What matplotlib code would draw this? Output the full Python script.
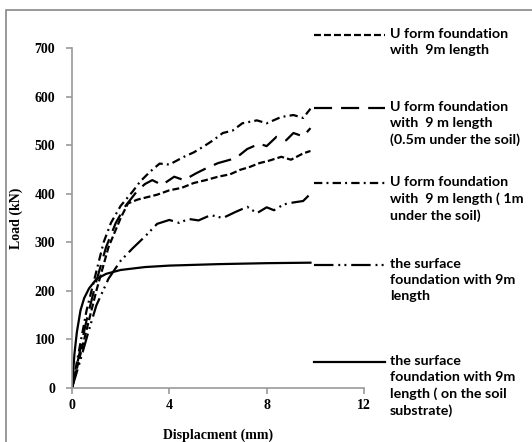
import matplotlib
matplotlib.use("Agg")
import matplotlib.pyplot as plt
from matplotlib.lines import Line2D
from matplotlib.patches import Rectangle

plt.rcParams['lines.scale_dashes'] = False

# data (displacement mm, load kN)
x_1m = [0, 0.3, 0.6, 1.0, 1.3, 1.6, 2.0, 2.5, 2.8, 3.2, 3.6, 4.0, 4.6, 5.0, 5.4, 5.8, 6.2, 6.6, 7.0, 7.6, 8.0, 8.6, 9.1, 9.5, 9.8]
y_1m = [0, 80, 160, 240, 300, 340, 375, 405, 425, 445, 462, 460, 476, 485, 497, 510, 525, 530, 545, 551, 545, 558, 562, 556, 575]

x_05m = [0, 0.3, 0.6, 1.0, 1.4, 1.8, 2.2, 2.7, 3.0, 3.3, 3.7, 4.2, 4.6, 5.1, 5.5, 6.0, 6.5, 6.8, 7.2, 7.7, 8.0, 8.4, 8.8, 9.1, 9.5, 9.8]
y_05m = [0, 70, 140, 220, 290, 340, 375, 407, 420, 428, 418, 435, 428, 442, 452, 463, 470, 476, 492, 503, 498, 517, 510, 525, 518, 535]

x_9m = [0, 0.3, 0.7, 1.0, 1.5, 2.0, 2.3, 2.7, 3.1, 3.5, 4.0, 4.5, 5.0, 5.5, 6.0, 6.5, 6.9, 7.3, 7.7, 8.1, 8.6, 9.0, 9.5, 9.8]
y_9m = [0, 60, 140, 200, 290, 350, 380, 388, 393, 398, 407, 412, 422, 428, 435, 440, 449, 455, 463, 468, 476, 470, 483, 488]

x_surf = [0, 0.3, 0.7, 1.0, 1.5, 2.0, 2.5, 3.0, 3.5, 4.0, 4.4, 4.8, 5.2, 5.7, 6.2, 6.7, 7.2, 7.6, 8.0, 8.3, 8.7, 9.1, 9.5, 9.8]
y_surf = [0, 50, 120, 170, 225, 262, 288, 312, 338, 346, 340, 348, 345, 356, 350, 362, 373, 360, 372, 366, 378, 382, 385, 400]

x_soil = [0, 0.1, 0.2, 0.35, 0.5, 0.7, 1.0, 1.4, 2.0, 3.0, 4.0, 6.0, 8.0, 9.8]
y_soil = [0, 70, 115, 160, 185, 205, 224, 235, 243, 249, 252, 255, 257, 258]

labels = ["U form foundation\nwith  9m length",
          "U form foundation\nwith  9 m length\n(0.5m under the soil)",
          "U form foundation\nwith  9 m length ( 1m\nunder the soil)",
          "the surface\nfoundation with 9m\nlength",
          "the surface\nfoundation with 9m\nlength ( on the soil\nsubstrate)"]

styles = [(0, (5, 2.2)),
          (0, (13, 6.5)),
          (0, (6, 3, 1.4, 3)),
          (0, (14, 3.5, 1.4, 3, 1.4, 3.5)),
          '-']

W, H = 532, 442
fig = plt.figure(figsize=(W / 100, H / 100), dpi=100)
ax = fig.add_axes([72 / W, 1 - 388 / H, 292 / W, 340 / H])

series = [(x_9m, y_9m), (x_05m, y_05m), (x_1m, y_1m), (x_surf, y_surf), (x_soil, y_soil)]
for (xs, ys), ls in zip(series, styles):
    ax.plot(xs, ys, color='black', lw=1.6, linestyle=ls)

ax.set_xlim(0, 12)
ax.set_ylim(0, 700)
ax.set_xticks([0, 4, 8, 12])
ax.set_yticks(range(0, 800, 100))
for s in ['top', 'right']:
    ax.spines[s].set_visible(False)
for s in ['left', 'bottom']:
    ax.spines[s].set_color('#999999')
    ax.spines[s].set_linewidth(1.2)
ax.tick_params(colors='#999999', length=4, width=1.2, labelcolor='black')
for t in ax.get_xticklabels() + ax.get_yticklabels():
    t.set_fontfamily('Liberation Serif')
    t.set_fontweight('bold')
    t.set_fontsize(10)
ax.tick_params(axis='y', pad=8)
ax.tick_params(axis='x', pad=4)
ax.set_xlabel("Displacment (mm)", fontfamily='Liberation Serif', fontweight='bold', fontsize=10, labelpad=12)
ax.set_ylabel("Load (kN)", fontfamily='Liberation Serif', fontweight='bold', fontsize=10, labelpad=8)

# legend drawn at the right
ys_px = [35, 108, 183, 265, 362]
for lab, ls, yp in zip(labels, styles, ys_px):
    yf = 1 - yp / H
    fig.add_artist(Line2D([314 / W, 385 / W], [yf, yf], color='black', lw=1.6, linestyle=ls))
    fig.text(390 / W, 1 - (yp - 7) / H, lab, fontfamily='Lato', fontweight='bold', fontsize=10.3,
             va='top', ha='left', linespacing=1.4)

fig.add_artist(Rectangle((5.5 / W, -0.1), 1.2, 1 - 10 / H + 0.1, transform=fig.transFigure,
                         fill=False, edgecolor='#888888', lw=1.2))

fig.savefig("out.png", dpi=100)
